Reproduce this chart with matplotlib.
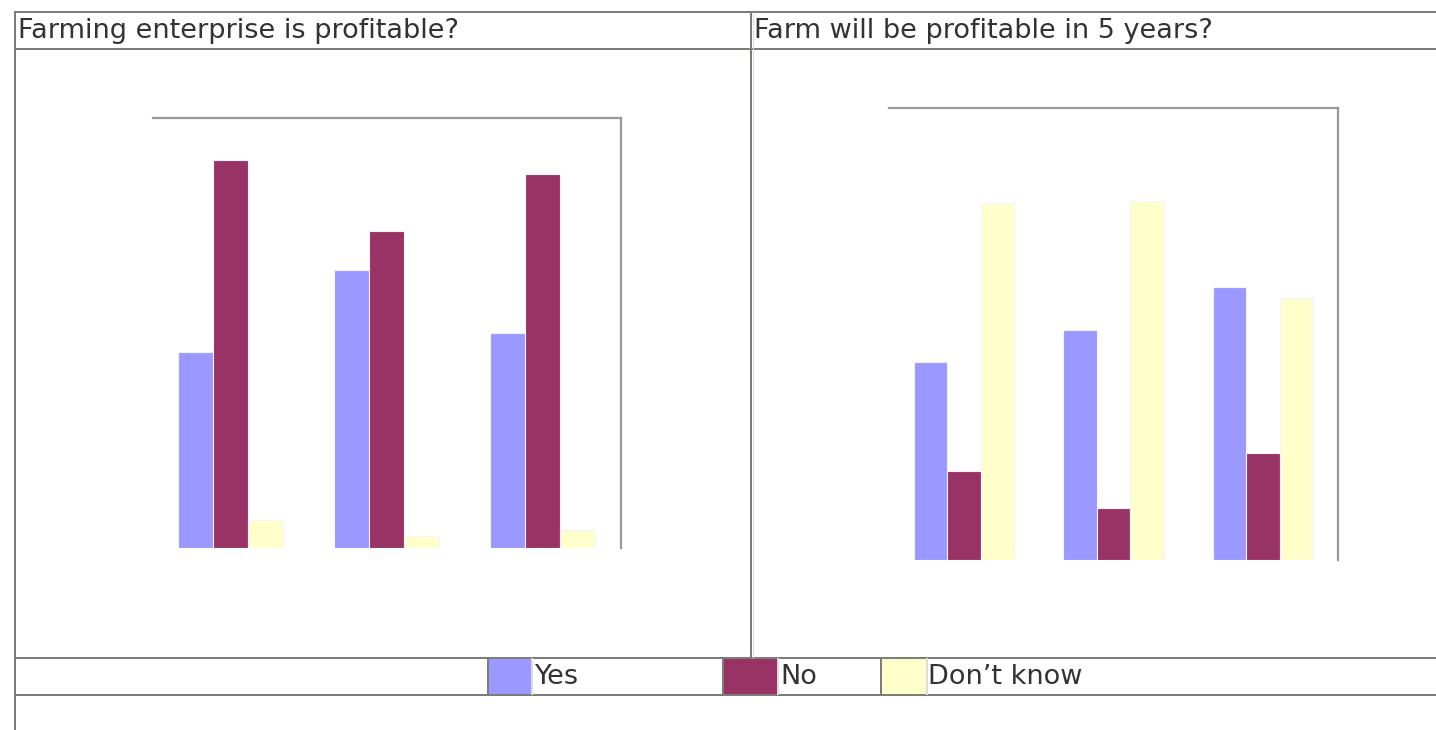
import matplotlib.pyplot as plt
import numpy as np
from matplotlib.lines import Line2D
from matplotlib.patches import Rectangle

W, H = 1436, 730

# survey answers, percent of respondents per group
series = ['Yes', 'No', 'Don’t know']
colors = ['#9999ff', '#993366', '#ffffcc']

profit_now = {
    'Yes': [31.9, 45.3, 35.0],
    'No': [63.2, 51.6, 60.9],
    'Don’t know': [4.6, 2.0, 2.9],
}
profit_5yr = {
    'Yes': [30.7, 35.6, 42.3],
    'No': [13.8, 8.0, 16.6],
    'Don’t know': [55.3, 55.6, 40.6],
}
titles = ['Farming enterprise is profitable?', 'Farm will be profitable in 5 years?']

dark = '#7d7d78'
light = '#dcdcdc'
txt = '#333333'
fnt = 'DejaVu Sans'
fs = 19.5


def fx(x):
    return x / W


def fy(y):
    return 1 - y / H


def hline(fig, y, x0, x1, c=dark, lw=2):
    fig.add_artist(Line2D([fx(x0), fx(x1)], [fy(y), fy(y)], color=c,
                          lw=lw * 0.72, solid_capstyle='butt'))


def vline(fig, x, y0, y1, c=dark, lw=2):
    fig.add_artist(Line2D([fx(x), fx(x)], [fy(y0), fy(y1)], color=c,
                          lw=lw * 0.72, solid_capstyle='butt'))


def bars(fig, box, data, shift=0.0):
    x0, x1, top, base = box
    ax = fig.add_axes([fx(x0), fy(base), (x1 - x0) / W, (base - top) / H])
    idx = np.arange(3)
    w = 0.224
    for i, s in enumerate(series):
        ax.bar(idx + (i - 1) * w, data[s], width=w, color=colors[i],
               edgecolor='#f4f2ff', linewidth=0.8)
    ax.set_xlim(-0.5 + shift, 2.5 + shift)
    ax.set_ylim(0, 70)
    for side in ['left', 'bottom']:
        ax.spines[side].set_visible(False)
    for side in ['top', 'right']:
        ax.spines[side].set_color('#999999')
        ax.spines[side].set_linewidth(1.6)
    ax.set_xticks([])
    ax.set_yticks([])
    ax.patch.set_alpha(0)
    return ax


fig = plt.figure(figsize=(W / 100, H / 100), dpi=100)

# table grid
for y in [11, 48, 657, 694]:
    hline(fig, y, 14, W, c=light, lw=1)
for y in [12, 49, 658, 695]:
    hline(fig, y, 14, W)
vline(fig, 15, 11, H)
vline(fig, 751, 12, 658)
vline(fig, 753, 12, 658, c=light, lw=1)

# chart cells
bars(fig, (153, 621, 118, 548), profit_now, shift=0.005)
bars(fig, (889, 1338, 108, 560), profit_5yr)

fig.text(fx(18), fy(31), titles[0], fontsize=fs, color=txt, family=fnt, va='center')
fig.text(fx(754), fy(31), titles[1], fontsize=fs, color=txt, family=fnt, va='center')

# legend row
swatches = [(488, 532, 535), (723, 778, 780), (881, 927, 928)]
for (s0, s1, tx), s, c in zip(swatches, series, colors):
    fig.add_artist(Rectangle((fx(s0), fy(694)), (s1 - s0) / W, 35 / H,
                             facecolor=c, edgecolor='none'))
    vline(fig, s0, 658, 695)
    vline(fig, s1, 658, 695, c=light, lw=2)
    fig.text(fx(tx), fy(677), s, fontsize=fs, color=txt, family=fnt, va='center')

fig.savefig('out.png', dpi=100)
